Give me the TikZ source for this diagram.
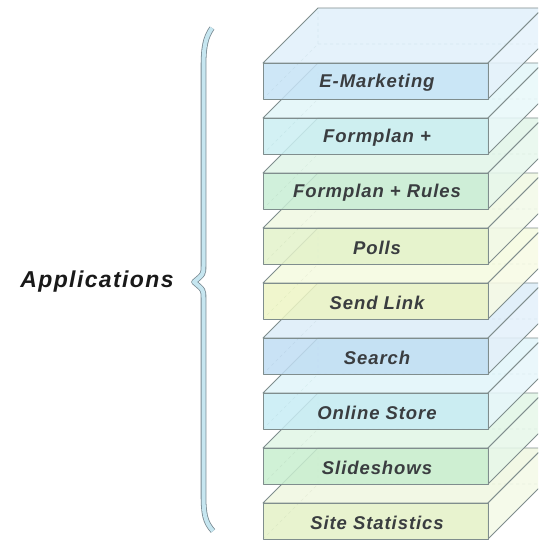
\documentclass[tikz,border=0pt]{standalone}
\usepackage{fontspec}
\newfontfamily\stackfont[LetterSpace=5]{Liberation Sans}
\newfontfamily\appsfont[LetterSpace=6]{Liberation Sans}
\usepackage{xcolor}
\usepackage{tikz}

\definecolor{edgegray}{HTML}{7F8D8D}
\definecolor{hidegray}{HTML}{A9B4B4}
\definecolor{labelgray}{HTML}{3A3D40}
\definecolor{braceblue}{HTML}{C6E6F0}
\definecolor{bracegray}{HTML}{7A8A92}
\definecolor{emkt}{HTML}{C6E3F6}
\definecolor{fplan}{HTML}{CBEFF2}
\definecolor{frules}{HTML}{C8EDD5}
\definecolor{polls}{HTML}{E3F2CA}
\definecolor{slink}{HTML}{EDF5C4}
\definecolor{search}{HTML}{C0DDF3}
\definecolor{store}{HTML}{C7ECF4}
\definecolor{slides}{HTML}{C8EECF}
\definecolor{stats}{HTML}{E4F1C7}

\tikzset{
  hidden/.style={draw=hidegray, dashed, line width=0.6pt},
  slabface/.style={draw=edgegray, line width=0.9pt, fill opacity=0.85, line join=round},
  slablabel/.style={font=\stackfont\bfseries\itshape\fontsize{18.5}{18.5}\selectfont, text=labelgray},
  brace/.style={draw=bracegray, double=braceblue, line width=0.8pt, double distance=4pt, line join=round},
}

\begin{document}
\begin{tikzpicture}[x=1pt,y=-1pt]
  \clip (0,0) rectangle (538,540);
  % slabs, bottom one first
  \foreach \i/\name/\txt/\col in {8/stats/Site Statistics/stats, 7/slides/Slideshows/slides,
      6/store/Online Store/store, 5/search/Search/search, 4/slink/Send Link/slink,
      3/polls/Polls/polls, 2/frules/Formplan + Rules/frules, 1/fplan/Formplan +/fplan,
      0/emkt/E-Marketing/emkt} {
    \pgfmathsetmacro\y{63+55*\i}
    \draw[hidden] (263,\y+36) -- (318,\y-19) -- (543,\y-19) (318,\y-19) -- (318,\y-55);
    \filldraw[slabface, fill=\col!55!white] (263,\y) -- (318,\y-55) -- (543,\y-55) -- (488,\y) -- cycle;
    \filldraw[slabface, fill=\col!45!white] (488,\y) -- (543,\y-55) -- (543,\y-19) -- (488,\y+36) -- cycle;
    \filldraw[slabface, fill=\col] (263,\y) rectangle (488,\y+36);
    \node[slablabel] (\name) at (377,\y+20) {\txt};
  }
  \draw[brace] (212,28) .. controls (205,38) and (203.5,48) .. (203.5,68)
    -- (203.5,266) .. controls (203.5,274) .. (194,282)
    .. controls (203.5,290) .. (203.5,298) -- (203.5,494)
    .. controls (203.5,514) and (205,522) .. (213,531);
  \node[font=\appsfont\bfseries\itshape\fontsize{23}{23}\selectfont, text=black!90] (apps) at (97,282) {Applications};
\end{tikzpicture}
\end{document}
